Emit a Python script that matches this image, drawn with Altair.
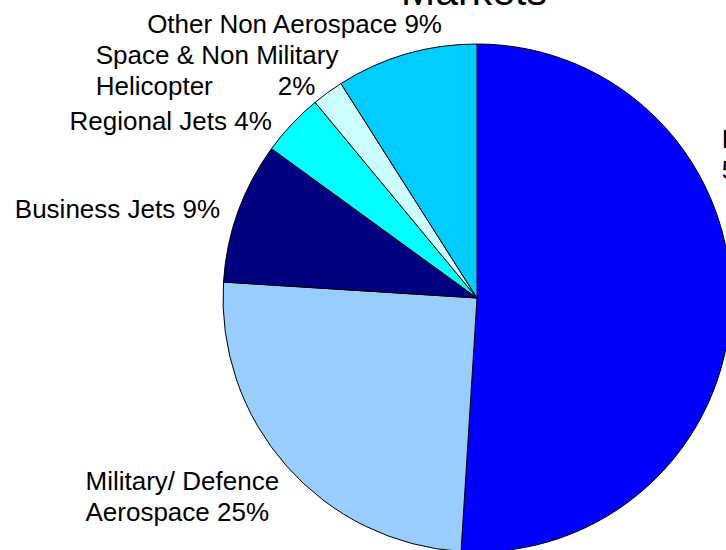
import altair as alt
import pandas as pd

# ---- data ----
categories = [
    "Large Civil Aerospace",
    "Military/ Defence Aerospace",
    "Business Jets",
    "Regional Jets",
    "Space & Non Military Helicopter",
    "Other Non Aerospace",
]
shares = [51, 25, 9, 4, 2, 9]
labels = [
    "Large Civil Aerospace\n51%",
    "Military/ Defence\nAerospace 25%",
    "Business Jets 9%",
    "Regional Jets 4%",
    "Space & Non Military\nHelicopter" + "\u00a0" * 9 + "2%",
    "Other Non Aerospace 9%",
]
colors = ["#0000FF", "#99CCFF", "#000080", "#00FFFF", "#CCFFFF", "#00CCFF"]
title_text = "Markets"

df = pd.DataFrame({
    "category": categories,
    "share": shares,
    "label": labels,
    "order": list(range(len(categories))),
})

# ---- layout ----
CX, CY, R = 477, 298, 254
FONT = "Liberation Sans"
theta_scale = alt.Scale(domain=[0, 100])

# label placement relative to the slice's mid-angle point on the rim
label_layout = {
    "Large Civil Aerospace": ("left", -9, -158),
    "Military/ Defence Aerospace": ("left", -201, 24),
    "Business Jets": ("right", -18, 6),
    "Regional Jets": ("right", -20, 6),
    "Space & Non Military Helicopter": ("left", -232, -29),
    "Other Non Aerospace": ("left", -259, -21),
}

base = alt.Chart(df)

pie = base.mark_arc(stroke="black", strokeWidth=1, outerRadius=R).encode(
    theta=alt.Theta("share:Q", stack=True, scale=theta_scale),
    order=alt.Order("order:Q"),
    color=alt.Color(
        "category:N",
        scale=alt.Scale(domain=categories, range=colors),
        legend=None,
    ),
    x=alt.value(CX),
    y=alt.value(CY),
)

label_layers = []
for cat, (align, dx, dy) in label_layout.items():
    layer = (
        base.transform_window(cum="sum(share)", sort=[alt.SortField("order")])
        .transform_calculate(mid="datum.cum - datum.share / 2")
        .transform_filter(alt.datum.category == cat)
        .mark_text(
            radius=R,
            align=align,
            baseline="alphabetic",
            dx=dx,
            dy=dy,
            font=FONT,
            fontSize=26,
            lineBreak="\n",
            lineHeight=31,
            color="black",
        )
        .encode(
            theta=alt.Theta("mid:Q", stack=None, scale=theta_scale),
            text="label:N",
            x=alt.value(CX),
            y=alt.value(CY),
        )
    )
    label_layers.append(layer)

title = (
    alt.Chart(pd.DataFrame({"t": [title_text]}))
    .mark_text(font=FONT, fontSize=41, align="center", baseline="alphabetic", color="black")
    .encode(text="t:N", x=alt.value(474), y=alt.value(4.5))
)

chart = (
    alt.layer(pie, *label_layers, title)
    .properties(width=726, height=550, autosize="none", padding=0, background="white")
    .configure_view(stroke=None)
)

chart.save("out.html", embed_options={"renderer": "svg", "actions": False})
